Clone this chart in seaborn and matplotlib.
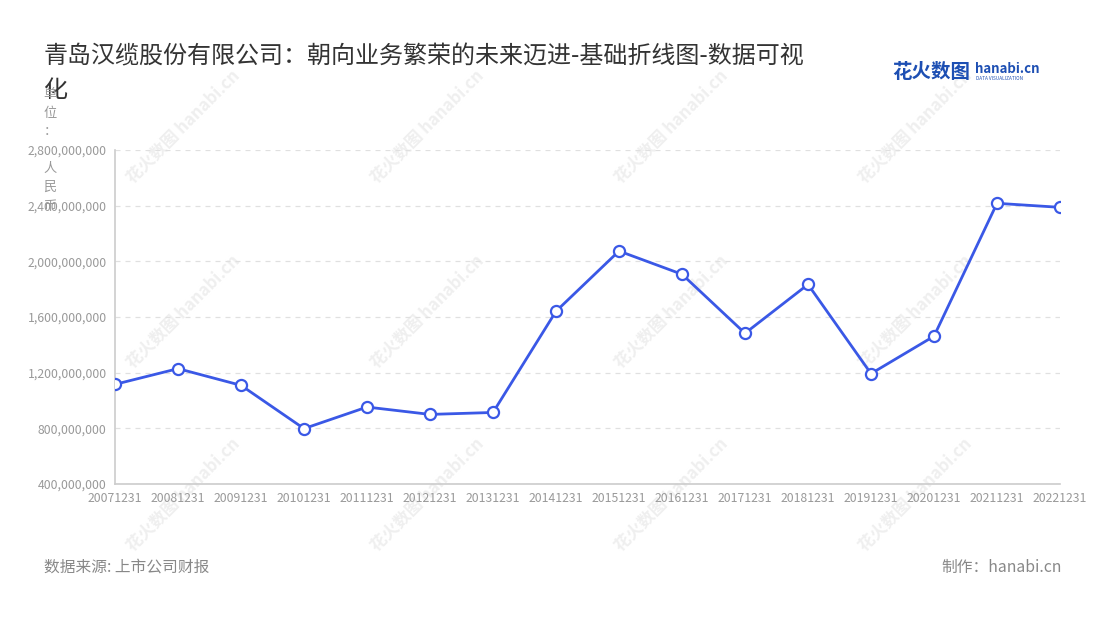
import pandas as pd
import seaborn as sns
import matplotlib.pyplot as plt
from matplotlib.ticker import FuncFormatter

# 数据
dates = ["20071231", "20081231", "20091231", "20101231", "20111231", "20121231",
         "20131231", "20141231", "20151231", "20161231", "20171231", "20181231",
         "20191231", "20201231", "20211231", "20221231"]
revenue = [1116e6, 1229e6, 1109e6, 798e6, 953e6, 900e6,
           914e6, 1641e6, 2074e6, 1907e6, 1483e6, 1834e6,
           1193e6, 1462e6, 2417e6, 2388e6]
y_ticks = [400e6, 800e6, 1200e6, 1600e6, 2000e6, 2400e6, 2800e6]

title = "青岛汉缆股份有限公司：朝向业务繁荣的未来迈进-基础折线图-数据可视\n化"
y_name = "单位：人民币"
source = "数据来源: 上市公司财报"
maker = "制作：hanabi.cn"

df = pd.DataFrame({"date": dates, "revenue": revenue})

sns.set_style("white")
plt.rcParams['font.family'] = ['Noto Sans CJK SC', 'DejaVu Sans']

fig = plt.figure(figsize=(11, 6.2), dpi=100)
ax = fig.add_axes([115 / 1100, 1 - 484 / 620, 945 / 1100, 334 / 620])
ax.set_zorder(2)
ax.patch.set_alpha(0)

# 水印
for wx in [183, 427, 671, 915]:
    for wy in [127, 312, 495]:
        fig.text(wx / 1100, 1 - wy / 620, "花火数图 hanabi.cn", rotation=45,
                 fontsize=12, color="#efefef", ha="center", va="center",
                 zorder=0, fontweight="bold")

line_color = "#3a58e6"
sns.lineplot(data=df, x="date", y="revenue", ax=ax, color=line_color,
             linewidth=2.0, marker="o", markersize=8,
             markerfacecolor="white", markeredgecolor=line_color,
             markeredgewidth=1.6, zorder=3)

ax.set_xlim(0, len(dates) - 1)
ax.set_ylim(y_ticks[0], y_ticks[-1])
ax.set_yticks(y_ticks)
ax.yaxis.set_major_formatter(FuncFormatter(lambda v, p: f"{int(v):,}"))
ax.set_xlabel("")
ax.set_ylabel("")

ax.grid(axis="y", color="#e0e0e0", linestyle=(0, (4, 4)), linewidth=0.9)
ax.grid(axis="x", visible=False)
for s in ["top", "right"]:
    ax.spines[s].set_visible(False)
for s in ["left", "bottom"]:
    ax.spines[s].set_color("#cccccc")
    ax.spines[s].set_linewidth(1.2)
ax.tick_params(axis="both", colors="#cccccc", labelcolor="#999999",
               labelsize=8.8, length=4, width=1, direction="out", pad=2)

# 标题与注释
fig.text(44 / 1100, 1 - 43 / 620, title, fontsize=17.3, color="#333333",
         ha="left", va="top", linespacing=1.4)
fig.text(50 / 1100, 1 - 88 / 620, "\n".join("单位：") + "\n\n" + "\n".join("人民币"),
         fontsize=9.5, color="#999999", ha="center", va="top", linespacing=1.56)
fig.text(44 / 1100, 1 - 567 / 620, source, fontsize=11.3, color="#888888",
         ha="left", va="center")
fig.text(1062 / 1100, 1 - 567 / 620, maker, fontsize=11.3, color="#888888",
         ha="right", va="center")

# logo
fig.text(892 / 1100, 1 - 72 / 620, "花火数图", fontsize=14, color="#1d4fb3",
         fontweight="bold", ha="left", va="center")
fig.text(975 / 1100, 1 - 69 / 620, "hanabi.cn", fontsize=9.5, color="#1d4fb3",
         fontweight="bold", ha="left", va="center")
fig.text(976 / 1100, 1 - 79 / 620, "DATA VISUALIZATION", fontsize=3.4,
         color="#1d4fb3", ha="left", va="center")

fig.savefig("out.png", dpi=100)
